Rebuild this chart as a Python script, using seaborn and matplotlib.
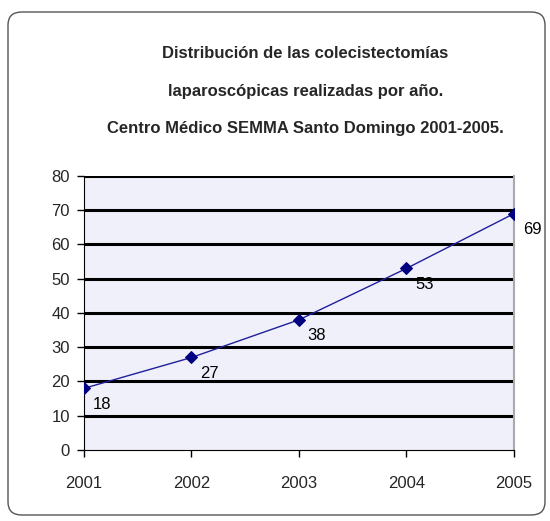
import matplotlib
matplotlib.use("Agg")
import matplotlib.pyplot as plt
import seaborn as sns
import pandas as pd
from matplotlib.patches import FancyBboxPatch

# ── Data ─────────────────────────────────────────────────
years = [2001, 2002, 2003, 2004, 2005]
cases = [18, 27, 38, 53, 69]
y_ticks = [0, 10, 20, 30, 40, 50, 60, 70, 80]

TITLE = ("Distribución de las colecistectomías\n"
         "laparoscópicas realizadas por año.\n"
         "Centro Médico SEMMA Santo Domingo 2001-2005.")

sns.set_style("white")
plt.rcParams["font.family"] = ["Liberation Sans", "DejaVu Sans"]

df = pd.DataFrame({"Año": years, "Casos": cases})

fig = plt.figure(figsize=(5.5, 5.21), dpi=100)
ax = fig.add_axes([0.1527, 0.1363, 0.7818, 0.526])

# rounded outer frame
frame = FancyBboxPatch((8 / 550, 6 / 521), 537 / 550, 503 / 521,
                       boxstyle="round,pad=0,rounding_size=0.025",
                       transform=fig.transFigure, facecolor="none",
                       edgecolor="#555555", linewidth=1.0, zorder=0)
fig.patches.append(frame)

ax.set_facecolor("#f0f0fb")
for yv in y_ticks[1:]:
    ax.axhline(yv, color="black", linewidth=2.2, zorder=1)

sns.lineplot(data=df, x="Año", y="Casos", ax=ax, color="#1f1f9a",
             linewidth=1.0, marker="D", markersize=6,
             markerfacecolor="#000080", markeredgecolor="#000080", zorder=3)

for x, y in zip(years, cases):
    ax.annotate(str(y), (x, y), textcoords="offset pixels", xytext=(18, -16),
                ha="center", va="center", fontsize=12, color="black")

ax.set_xlim(2001, 2005)
ax.set_ylim(0, 80)
ax.set_xticks(years)
ax.set_yticks(y_ticks)
ax.set_xticklabels([str(y) for y in years], fontsize=12)
ax.set_yticklabels([str(v) for v in y_ticks], fontsize=12)
ax.tick_params(axis="both", direction="out", length=5, width=1, color="black",
               bottom=True, left=True)
ax.tick_params(axis="x", pad=14)
ax.tick_params(axis="y", pad=5)
ax.set_xlabel("")
ax.set_ylabel("")

ax.spines["top"].set_visible(False)
ax.spines["right"].set_color("#aaaaaa")
ax.spines["right"].set_linewidth(1.5)
ax.spines["left"].set_color("black")
ax.spines["bottom"].set_color("black")

fig.text(0.555, 0.825, TITLE, ha="center", va="center", fontsize=12,
         fontweight="bold", linespacing=2.9)

fig.savefig("out.png", dpi=100)
